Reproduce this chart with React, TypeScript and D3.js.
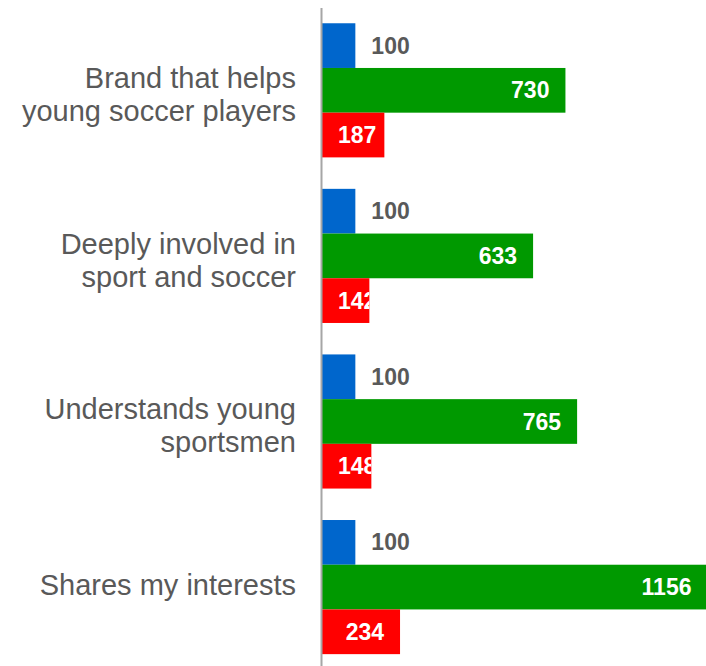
import React from "react";
import * as d3 from "d3";

const categories: string[][] = [
  ["Brand that helps", "young soccer players"],
  ["Deeply involved in", "sport and soccer"],
  ["Understands young", "sportsmen"],
  ["Shares my interests"],
];
const seriesKeys = ["base", "green", "red"];
const baseValues = [100, 100, 100, 100];
const greenValues = [730, 633, 765, 1156];
const redValues = [187, 142, 148, 234];

const COLORS: Record<string, string> = {
  base: "#0066CC",
  green: "#009900",
  red: "#FF0000",
};

const W = 706;
const H = 666;
const X0 = 322;
const LABEL_FONT = 23;
const CAT_FONT = 29;
const LINE_H = 33;

export default function App() {
  const x = d3.scaleLinear().domain([0, 1156]).range([X0, 707.5]);
  const y = d3
    .scaleBand<number>()
    .domain(d3.range(categories.length))
    .range([6.7, 670.7])
    .paddingInner(0.19)
    .paddingOuter(0.1);
  const inner = d3
    .scaleBand<string>()
    .domain(seriesKeys)
    .range([0, y.bandwidth()]);

  const rows = categories.map((cat, i) => ({
    cat,
    values: { base: baseValues[i], green: greenValues[i], red: redValues[i] } as Record<string, number>,
  }));

  const font = "Arial, 'Liberation Sans', sans-serif";

  return (
    <svg
      width={W}
      height={H}
      style={{ position: "absolute", left: 0, top: 0 }}
      fontFamily={font}
    >
      <rect width={W} height={H} fill="#ffffff" />
      {rows.map((row, i) => {
        const gy = y(i)!;
        const n = row.cat.length;
        const cy = gy + y.bandwidth() / 2 + (n > 1 ? 4 : -2);
        return (
          <g key={i}>
            <text textAnchor="end" fontSize={CAT_FONT} fill="#595959">
              {row.cat.map((line, j) => (
                <tspan
                  key={j}
                  x={296}
                  y={cy + (j - (n - 1) / 2) * LINE_H}
                  dy="0.35em"
                >
                  {line}
                </tspan>
              ))}
            </text>
            {seriesKeys.map((k) => {
              const v = row.values[k];
              const by = gy + inner(k)!;
              const bh = inner.bandwidth();
              const xe = x(v);
              const textW = String(v).length * 0.556 * LABEL_FONT;
              let label;
              if (k === "base") {
                label = (
                  <text
                    x={xe + 16}
                    y={by + bh / 2}
                    dy="0.35em"
                    fontSize={LABEL_FONT}
                    fontWeight="bold"
                    fill="#595959"
                  >
                    {v}
                  </text>
                );
              } else {
                const endPos = Math.max(xe - 16, X0 + 16 + textW);
                label = (
                  <text
                    x={endPos}
                    y={by + bh / 2}
                    dy="0.35em"
                    textAnchor="end"
                    fontSize={LABEL_FONT}
                    fontWeight="bold"
                    fill="#ffffff"
                    clipPath={`url(#clip-${i}-${k})`}
                  >
                    {v}
                  </text>
                );
              }
              return (
                <g key={k}>
                  <clipPath id={`clip-${i}-${k}`}>
                    <rect x={X0} y={by} width={xe - X0} height={bh} />
                  </clipPath>
                  <rect
                    x={X0}
                    y={by}
                    width={xe - X0}
                    height={bh}
                    fill={COLORS[k]}
                  />
                  {label}
                </g>
              );
            })}
          </g>
        );
      })}
      <line x1={321.5} x2={321.5} y1={8} y2={H} stroke="#a6a6a6" strokeWidth={2} />
    </svg>
  );
}
